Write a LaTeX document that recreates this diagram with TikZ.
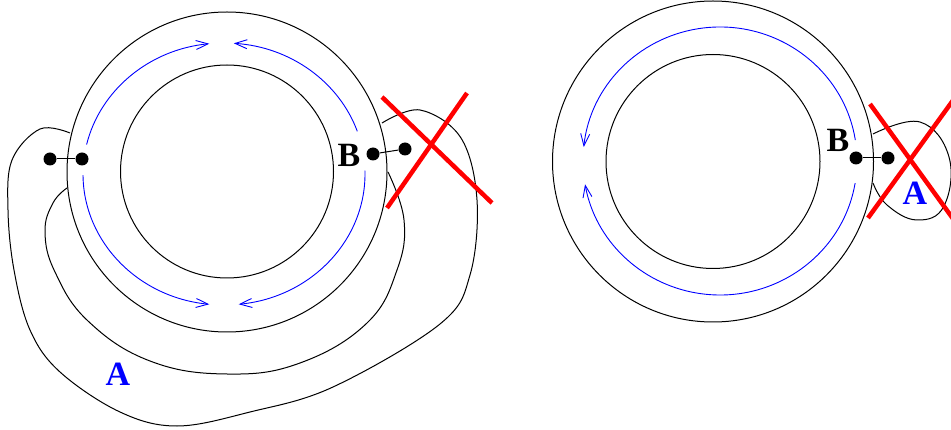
\documentclass[tikz,border=0pt]{standalone}
\usepackage{fontspec}
\setmainfont{Liberation Serif}
\usetikzlibrary{arrows.meta,calc}
\begin{document}
\begin{tikzpicture}[x=1pt,y=-1pt,
  ring/.style={draw=black,line width=1pt},
  flow/.style={draw=blue,line width=0.9pt,-{Straight Barb[length=12pt,width=9pt,line width=0.9pt]}},
  dot/.style={circle,fill=black,inner sep=0pt,minimum size=13pt},
  link/.style={draw=black,line width=1pt},
  cross/.style={draw=red,line width=4.5pt},
  lab/.style={font=\fontsize{34}{34}\selectfont\bfseries,inner sep=0pt},
  loopline/.style={draw=black,line width=1pt}]
\useasboundingbox (0,0) rectangle (951,430);
\clip (0,0) rectangle (951,430);

% ---------- left figure ----------
\coordinate (L) at (227,172);
\coordinate (Li) at (227,171.5);
\coordinate (Lb) at (224,174);
\draw[ring] (L) circle[radius=160pt];
\draw[ring] (Li) circle[radius=106.5pt];

\draw[flow] ($(Lb)+(167:141pt and 131pt)$) arc[start angle=167,end angle=96,x radius=141pt,y radius=131pt];
\draw[flow] ($(Lb)+(19:141pt and 131pt)$) arc[start angle=19,end angle=86,x radius=141pt,y radius=131pt];
\draw[flow] ($(Lb)+(180.5:141pt and 131pt)$) arc[start angle=180.5,end angle=264,x radius=141pt,y radius=131pt];
\draw[flow] ($(Lb)+(1.5:141pt and 131pt)$) arc[start angle=1.5,end angle=-84,x radius=141pt,y radius=131pt];

% outer loop A
\draw[loopline] plot[smooth,tension=0.6] coordinates {
 (382,123) (420,110) (461,138) (477,200) (470,275) (440,324) (333,387) (250,412)
 (177,426) (120,412) (60,372) (30,330) (14,270) (8,210) (12,160) (40,129) (70,133)};
% inner loop
\draw[loopline] plot[smooth,tension=0.7] coordinates {
 (388,172) (404,220) (397,270) (367,323) (300,363)
 (227,374) (150,361) (88,321) (55,272) (45,232) (53,203) (67,188)};

\node[dot] (d1) at (50,159) {};
\node[dot] (d2) at (82,159) {};
\draw[link] (d1) -- (d2);
\node[dot] (d3) at (373,154) {};
\node[dot] (d4) at (405,149) {};
\draw[link] (d3) -- (d4);

\node[lab] (B1) at (349,155) {B};
\node[lab,text=blue] (A1) at (118,374) {A};

\draw[cross] (382,97) -- (492,203);
\draw[cross] (467,93) -- (387,208);

% ---------- right figure ----------
\coordinate (R) at (713,161.5);
\coordinate (Rb) at (720,161);
\draw[ring] (R) circle[radius=160.5pt];
\draw[ring] (R) circle[radius=107pt];

\draw[flow] ($(Rb)+(9:137pt and 134pt)$) arc[start angle=9,end angle=174,x radius=137pt,y radius=134pt];
\draw[flow] ($(Rb)+(-9.5:137pt and 134pt)$) arc[start angle=-9.5,end angle=-170,x radius=137pt,y radius=134pt];

\draw[loopline] plot[smooth,tension=0.7] coordinates {
 (873,134) (920,122) (949,157) (944,206) (917,220) (887,205) (873,183)};

\node[dot] (d5) at (856,158) {};
\node[dot] (d6) at (888,158) {};
\draw[link] (d5) -- (d6);

\node[lab] (B2) at (838,140) {B};
\node[lab,text=blue] (A2) at (915,193) {A};

\draw[cross] (870,104) -- (980,256);
\draw[cross] (868,218) -- (980,63);
\end{tikzpicture}
\end{document}
